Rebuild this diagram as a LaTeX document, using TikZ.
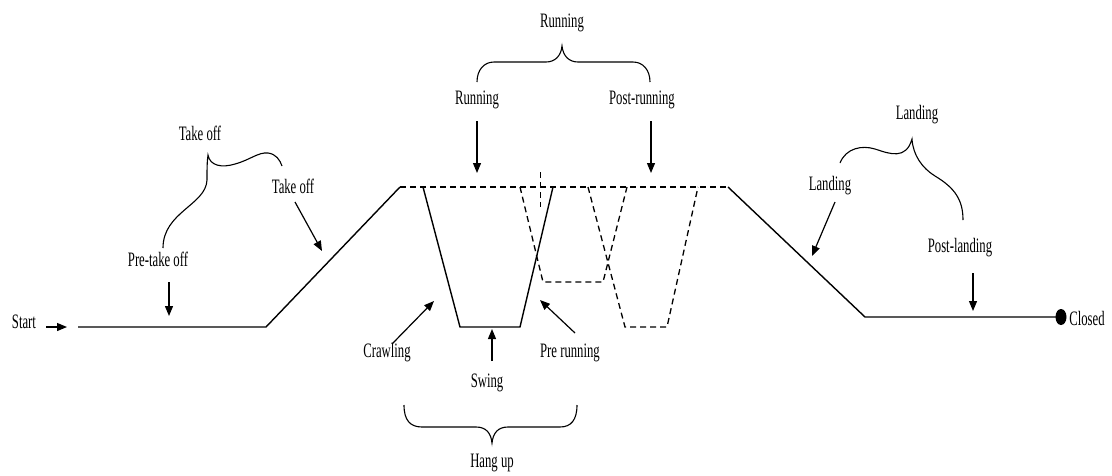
\documentclass[tikz,border=0pt]{standalone}
\usepackage{fontspec}
\setmainfont{Liberation Serif}
\usetikzlibrary{arrows.meta}
% condensed label text
\newcommand\narrow[1]{\scalebox{0.62}[1]{#1}}
\begin{document}
\begin{tikzpicture}[x=1pt,y=-1pt,
  lbl/.style={inner sep=0pt, font=\fontsize{20.5}{22}\selectfont},
  track/.style={line width=1.4pt, line join=miter},
  dashtrack/.style={line width=1.3pt, dash pattern=on 6pt off 4pt},
  pointer/.style={line width=1.2pt, -{Triangle[length=10pt,width=8pt]}},
  bracket/.style={line width=1.1pt}]
\fill[white] (0,0) rectangle (1112,475);
\useasboundingbox (0,0) rectangle (1112,475);

% ---- flight profile ----
\coordinate (g0) at (78,327);
\coordinate (g1) at (266,327);
\coordinate (top0) at (400,187);
\coordinate (top1) at (728,187);
\coordinate (g2) at (865,317);
\coordinate (g3) at (1058,317);

\draw[track] (g0) -- (g1) -- (top0);
\draw[dashtrack] (top0) -- (top1);
\draw[track] (top1) -- (g2) -- (g3);
\fill (1061,317) ellipse [x radius=5.5, y radius=8];

% hang-up trough (solid) and running troughs (dashed)
\draw[track] (423,187) -- (460,327) -- (520,327) -- (553,187);
\draw[dashtrack] (520,187) -- (543,282) -- (603,282) -- (627,187);
\draw[dashtrack] (588,187) -- (625,327) -- (667,327) -- (698,187);
\draw[dashtrack, line width=1pt] (540,172) -- (540,207);

% ---- labels ----
\node[lbl] (start)   at (24,322)   {\narrow{Start}};
\node[lbl] (tkgrp)   at (200,133)  {\narrow{Take off}};
\node[lbl] (tk)      at (293,186)  {\narrow{Take off}};
\node[lbl] (pretk)   at (158,259)  {\narrow{Pre-take off}};
\node[lbl] (rungrp)  at (562,23)   {\narrow{Running}};
\node[lbl] (run)     at (477,100)  {\narrow{Running}};
\node[lbl] (postrun) at (642,100)  {\narrow{Post-running}};
\node[lbl] (crawl)   at (387,353)  {\narrow{Crawling}};
\node[lbl] (swing)   at (487,383)  {\narrow{Swing}};
\node[lbl] (prerun)  at (570,353)  {\narrow{Pre running}};
\node[lbl] (hang)    at (492,463)  {\narrow{Hang up}};
\node[lbl] (landgrp) at (917,115)  {\narrow{Landing}};
\node[lbl] (land)    at (830,186)  {\narrow{Landing}};
\node[lbl] (postland) at (960,248) {\narrow{Post-landing}};
\node[lbl] (closed)  at (1087,318) {\narrow{Closed}};

% ---- pointers ----
\coordinate (start-a) at (46,327);     \coordinate (start-b) at (67,327);
\coordinate (pretk-a) at (169,282);    \coordinate (pretk-b) at (169,316);
\coordinate (tk-a) at (295,202);       \coordinate (tk-b) at (322,251);
\coordinate (run-a) at (477,121);      \coordinate (run-b) at (477,173);
\coordinate (postrun-a) at (651,121);  \coordinate (postrun-b) at (651,173);
\coordinate (crawl-a) at (392,344);    \coordinate (crawl-b) at (434,301);
\coordinate (swing-a) at (492,361);    \coordinate (swing-b) at (492,329);
\coordinate (prerun-a) at (575,333);   \coordinate (prerun-b) at (540,300);
\coordinate (land-a) at (835,202);     \coordinate (land-b) at (812,256);
\coordinate (postland-a) at (973,273); \coordinate (postland-b) at (973,311);

\foreach \p in {start,pretk,tk,run,postrun,crawl,swing,prerun,land,postland}
  \draw[pointer] (\p-a) -- (\p-b);

% ---- braces ----
% take off
\draw[bracket] (163,248) .. controls (163,212) and (206,205) .. (207,180)
  .. controls (207,170) and (207,162) .. (208,155)
  .. controls (210,166) and (222,168) .. (235,164)
  .. controls (250,160) and (258,152) .. (268,153)
  .. controls (276,154) and (280,160) .. (282,166);
% running
\draw[bracket] (477,82) .. controls (477,70) and (484,62) .. (494,62) -- (546,62)
  .. controls (555,62) and (561,56) .. (562,46)
  .. controls (563,56) and (569,62) .. (578,62) -- (633,62)
  .. controls (643,62) and (650,70) .. (650,82);
% hang up
\draw[bracket] (404,405) .. controls (404,420) and (410,427) .. (422,427) -- (476,427)
  .. controls (486,427) and (491,433) .. (492,443)
  .. controls (493,433) and (498,427) .. (508,427) -- (560,427)
  .. controls (571,427) and (577,420) .. (577,405);
% landing
\draw[bracket] (840,163) .. controls (846,148) and (862,145) .. (875,149)
  .. controls (890,154) and (906,160) .. (912,139)
  .. controls (913,155) and (922,168) .. (935,176)
  .. controls (955,188) and (963,200) .. (963,220);
\end{tikzpicture}
\end{document}
